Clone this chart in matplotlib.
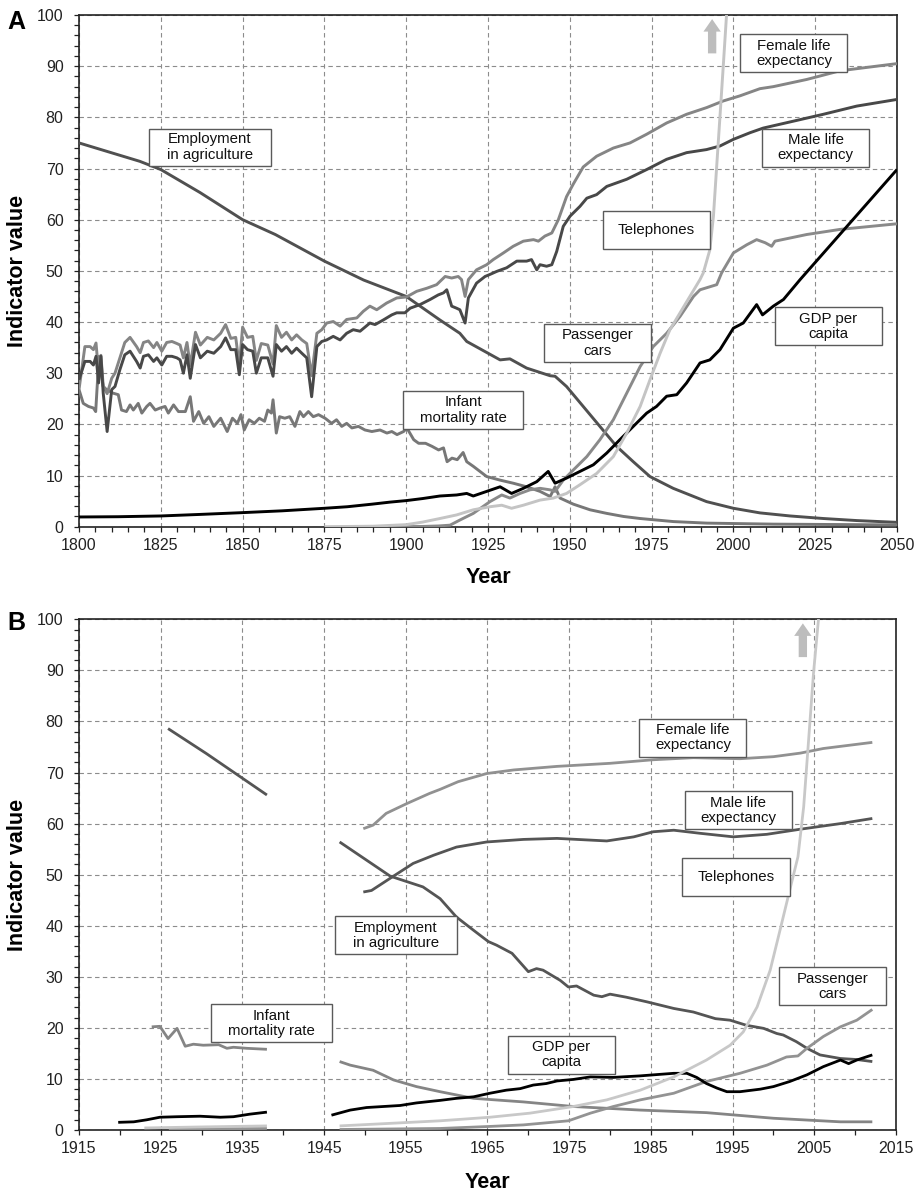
import matplotlib
matplotlib.use('Agg')
import matplotlib.pyplot as plt
from matplotlib.patches import Rectangle
from matplotlib.ticker import MultipleLocator, FixedLocator

plt.rcParams['font.family'] = ['Liberation Sans', 'DejaVu Sans']

# ---------------- Panel A data (year, value) ----------------
A_employment = [(1800, 75.0), (1818.6, 71.4), (1825, 69.8), (1837, 65.3), (1850, 60.0), (1860, 57.1),
                (1875, 51.9), (1887, 48.2), (1900, 45.0), (1910.3, 40.4), (1916.4, 37.8), (1918.5, 36.2),
                (1928.7, 32.6), (1931.7, 32.8), (1936.8, 31.0), (1944, 29.5), (1945.5, 29.4), (1949, 27.4),
                (1954.1, 23.5), (1959.2, 19.6), (1964.3, 15.7), (1969.4, 12.7), (1974.5, 9.8), (1981.6, 7.5),
                (1991.8, 4.9), (2000, 3.6), (2008.1, 2.7), (2017.3, 2.1), (2027.5, 1.6), (2037.7, 1.2),
                (2050, 0.85)]

A_male_life = [(1800, 28.7), (1801.8, 32.3), (1803.4, 32.3), (1804.4, 31.6), (1805.2, 33.3), (1806, 28.1),
               (1806.7, 33.3), (1807.4, 26.1), (1808.6, 18.6), (1810, 26.8), (1811, 27.4), (1812.5, 30.7),
               (1814, 33.6), (1815.6, 34.3), (1817.6, 32.3), (1818.7, 31.0), (1819.7, 33.3), (1821.2, 33.6),
               (1822.8, 32.3), (1823.8, 33.0), (1825.3, 31.6), (1826.8, 33.3), (1828.4, 33.3), (1829.9, 33.0),
               (1830.9, 32.6), (1831.9, 30.0), (1833, 33.6), (1834, 29.0), (1835.6, 35.6), (1837.1, 33.0),
               (1839.2, 34.3), (1841.2, 33.9), (1843.3, 35.2), (1844.8, 36.9), (1846.4, 34.6), (1847.9, 34.6),
               (1849, 29.7), (1850, 35.6), (1851.5, 34.6), (1853.1, 34.3), (1854.2, 30.0), (1855.7, 33.0),
               (1857.7, 33.0), (1859.3, 29.4), (1860.3, 35.6), (1861.9, 34.3), (1863.4, 35.2), (1865, 33.9),
               (1866.5, 34.9), (1868.1, 33.9), (1869.6, 33.0), (1871.1, 25.4), (1872.7, 35.2), (1874.2, 36.2),
               (1875.7, 36.5), (1877.7, 37.2), (1879.8, 36.5), (1881.8, 37.8), (1883.8, 38.5), (1885.9, 38.2),
               (1888.9, 39.8), (1890.5, 39.5), (1893, 40.4), (1895.6, 41.4), (1897.1, 41.8), (1899.6, 41.8),
               (1901.2, 42.7), (1904.2, 43.4), (1907.3, 44.4), (1909.8, 45.3), (1911.4, 45.7), (1912.4, 46.3),
               (1913.9, 43.1), (1915.4, 42.7), (1916.4, 42.4), (1918, 39.8), (1919, 44.7), (1921.5, 47.6),
               (1924.1, 48.9), (1925.6, 49.3), (1927.7, 49.9), (1930.7, 50.6), (1933.8, 51.9), (1936.8, 51.9),
               (1938.3, 52.2), (1939.9, 50.2), (1940.9, 51.2), (1942.9, 50.9), (1944.5, 51.2), (1946, 53.8),
               (1948, 58.7), (1950.1, 60.7), (1953.1, 62.6), (1955.2, 64.2), (1958.2, 64.9), (1961.3, 66.5),
               (1967.4, 67.9), (1973.5, 69.8), (1979.6, 71.8), (1985.7, 73.1), (1991.8, 73.7), (1995.9, 74.4),
               (2000, 75.7), (2005.1, 77.0), (2009.1, 77.9), (2017.3, 79.1), (2027.5, 80.6), (2037.7, 82.2),
               (2050, 83.5)]

A_female_life = [(1800, 26.8), (1801.8, 35.2), (1803.4, 35.2), (1804.4, 34.6), (1805.2, 35.9), (1806, 30.0),
                 (1806.7, 33.5), (1807.4, 27.5), (1808.6, 26.0), (1810, 29.0), (1811, 30.0), (1812.5, 33.0),
                 (1814, 36.0), (1815.6, 37.0), (1817.6, 35.2), (1818.7, 34.0), (1819.7, 36.0), (1821.2, 36.3),
                 (1822.8, 35.0), (1823.8, 36.0), (1825.3, 34.3), (1826.8, 36.0), (1828.4, 36.2), (1829.9, 35.8),
                 (1830.9, 35.5), (1831.9, 33.0), (1833, 36.0), (1834, 31.5), (1835.6, 38.0), (1837.1, 35.5),
                 (1839.2, 37.0), (1841.2, 36.5), (1843.3, 37.8), (1844.8, 39.5), (1846.4, 36.8), (1847.9, 37.0),
                 (1849, 31.5), (1850, 39.0), (1851.5, 37.0), (1853.1, 37.2), (1854.2, 32.5), (1855.7, 35.8),
                 (1857.7, 35.5), (1859.3, 31.8), (1860.3, 39.3), (1861.9, 37.0), (1863.4, 38.0), (1865, 36.5),
                 (1866.5, 37.5), (1868.1, 36.5), (1869.6, 35.8), (1871.1, 29.5), (1872.7, 37.8), (1874.2, 38.5),
                 (1875.7, 39.8), (1877.7, 40.1), (1879.8, 39.2), (1881.8, 40.5), (1884.9, 40.8), (1886.9, 42.1),
                 (1888.9, 43.1), (1891, 42.4), (1894, 43.7), (1897.1, 44.7), (1900.1, 44.9), (1903.2, 46.0),
                 (1906.3, 46.6), (1909.3, 47.3), (1911.9, 48.9), (1913.9, 48.6), (1915.9, 48.9), (1916.9, 48.3),
                 (1918, 45.0), (1919, 48.3), (1921.5, 50.2), (1924.6, 51.2), (1926.6, 52.2), (1929.7, 53.5),
                 (1932.7, 54.8), (1935.8, 55.8), (1938.9, 56.1), (1940.4, 55.8), (1942.4, 56.8), (1944.5, 57.4),
                 (1946.5, 60.0), (1949, 64.5), (1951.1, 67.0), (1954.1, 70.3), (1958.2, 72.4), (1963.3, 74.0),
                 (1968.4, 75.0), (1973.5, 76.7), (1979.6, 78.9), (1985.7, 80.6), (1991.8, 81.9), (1996.9, 83.2),
                 (2002, 84.2), (2008.1, 85.6), (2012.2, 86.0), (2022.4, 87.4), (2032.6, 89.1), (2050, 90.5)]

A_infant = [(1800, 26.8), (1801.3, 24.1), (1802.9, 23.5), (1804.4, 23.2), (1805.1, 22.5), (1806.1, 33.3),
            (1807.4, 27.4), (1808.4, 26.8), (1810.4, 26.1), (1812, 25.8), (1813, 22.8), (1814.5, 22.5),
            (1815.6, 23.8), (1816.6, 22.8), (1818.1, 24.1), (1819.2, 22.2), (1820.7, 23.5), (1821.7, 24.1),
            (1823.3, 22.8), (1824.8, 23.2), (1826.3, 23.5), (1827.3, 22.2), (1828.9, 23.8), (1830.4, 22.5),
            (1832.5, 22.5), (1834, 25.4), (1835, 20.6), (1836.6, 22.5), (1838.1, 20.2), (1839.7, 21.5),
            (1841.2, 19.6), (1843.3, 21.2), (1845.3, 18.6), (1846.9, 21.2), (1848.4, 20.2), (1849.5, 21.9),
            (1850.5, 18.9), (1852, 20.9), (1853.6, 20.2), (1855.1, 21.2), (1856.7, 20.6), (1857.7, 22.8),
            (1858.8, 22.2), (1859.3, 24.8), (1860.3, 18.3), (1861.3, 21.5), (1862.9, 21.2), (1864.4, 21.5),
            (1866, 19.6), (1867.5, 22.5), (1868.6, 21.5), (1870.1, 22.5), (1871.6, 21.5), (1873.2, 21.9),
            (1875.2, 21.2), (1877.2, 20.2), (1878.7, 20.9), (1880.3, 19.6), (1881.8, 20.2), (1883.4, 19.3),
            (1885.4, 19.6), (1887.4, 18.9), (1889.5, 18.6), (1892, 18.9), (1894.1, 18.3), (1895.6, 18.6),
            (1897.2, 18.0), (1899.2, 18.6), (1900.2, 19.3), (1902.3, 17.0), (1903.8, 16.3), (1905.9, 16.3),
            (1907.9, 15.7), (1909.9, 15.0), (1911.4, 15.4), (1912.5, 12.7), (1914, 13.4), (1915.6, 13.1),
            (1917.4, 14.5), (1918.5, 12.7), (1920.5, 11.8), (1924.6, 9.8), (1928.7, 9.1), (1932.7, 8.5),
            (1936.8, 7.8), (1940.9, 6.9), (1944, 5.9), (1945.5, 7.8), (1947, 5.6), (1951.1, 4.4),
            (1956.2, 3.3), (1961.3, 2.6), (1966.4, 2.0), (1971.5, 1.6), (1981.7, 1.0), (1991.9, 0.7),
            (2012.3, 0.5), (2050, 0.35)]

A_gdp = [(1800, 1.9), (1812, 1.95), (1825, 2.1), (1837, 2.4), (1850, 2.75), (1862, 3.1), (1875, 3.6),
         (1882, 3.9), (1889.5, 4.4), (1895, 4.8), (1900, 5.1), (1905, 5.5), (1910.3, 6.0), (1915.4, 6.2),
         (1918.5, 6.5), (1920.5, 6.0), (1924.6, 6.9), (1928.7, 7.8), (1932.2, 6.5), (1935.8, 7.5),
         (1939.9, 8.8), (1943.4, 10.8), (1945.5, 8.5), (1949, 9.5), (1953.1, 10.8), (1957.2, 12.1),
         (1961.3, 14.4), (1965.3, 17.0), (1969.4, 19.6), (1973.5, 22.2), (1976.5, 23.5), (1979.6, 25.5),
         (1982.7, 25.8), (1985.7, 28.1), (1989.8, 32.0), (1992.8, 32.6), (1995.9, 34.6), (2000, 38.8),
         (2003, 39.8), (2007.1, 43.4), (2008.9, 41.4), (2012.2, 43.1), (2015.3, 44.4), (2020.4, 48.3),
         (2050, 69.8)]

A_telephones = [(1875, 0.0), (1890, 0.1), (1900, 0.4), (1905, 0.9), (1910.3, 1.6), (1915.4, 2.3),
                (1920.5, 3.3), (1925.6, 3.9), (1929.2, 4.2), (1932.2, 3.6), (1935.8, 4.2), (1940.9, 5.2),
                (1945, 5.6), (1949, 6.5), (1953.1, 8.2), (1958.2, 10.4), (1963.3, 13.7), (1967.4, 18.3),
                (1971.5, 23.5), (1974.5, 28.7), (1977.6, 33.9), (1980.6, 38.5), (1983.7, 41.8), (1986.7, 45.0),
                (1989.8, 48.3), (1990.8, 49.6), (1992.8, 54.1), (1993.9, 60.7), (1994.9, 70.5), (1995.9, 80.2),
                (1996.9, 90.0), (1997.9, 100.0), (1998.3, 105.0)]

A_cars = [(1895, 0.0), (1905, 0.05), (1910, 0.15), (1913.4, 0.3), (1916.4, 1.3), (1920.5, 2.6), (1925.6, 4.9),
          (1929.2, 6.2), (1931.7, 5.6), (1934.8, 6.5), (1937.8, 7.2), (1940.9, 7.5), (1944, 7.2),
          (1945.5, 6.9), (1948, 9.1), (1951.1, 11.1), (1955.2, 13.7), (1959.2, 17.0), (1963.3, 20.9),
          (1967.4, 26.1), (1971.5, 31.3), (1975.5, 35.2), (1979.6, 37.8), (1983.7, 41.1), (1987.8, 45.0),
          (1989.8, 46.3), (1994.9, 47.3), (1996.4, 49.6), (2000, 53.5), (2004.1, 55.1), (2007.1, 56.1),
          (2009.7, 55.5), (2011.7, 54.8), (2012.7, 55.8), (2022.4, 57.1), (2032.6, 58.1), (2050, 59.2)]

# ---------------- Panel B data (year, value); two segments each ----------------
B_employment_1 = [(1925.9, 78.6), (1930.6, 73.7), (1938, 65.6)]
B_employment_2 = [(1946.9, 56.4), (1953.1, 49.7), (1957.1, 47.6), (1959.2, 45.3), (1961.2, 41.7), (1963.3, 39.1),
                  (1965.1, 36.9), (1966.1, 36.2), (1968, 34.6), (1970, 31.0), (1971, 31.6), (1971.8, 31.3),
                  (1973.9, 29.3), (1974.9, 28.0), (1975.9, 28.2), (1978, 26.4), (1979, 26.1), (1980, 26.6),
                  (1982, 26.0), (1984.5, 25.1), (1987.8, 23.8), (1990.2, 23.1), (1992.9, 21.8), (1994.7, 21.5),
                  (1996.7, 20.5), (1998.8, 19.9), (2000.4, 18.9), (2001.2, 18.6), (2002.8, 17.3), (2004.1, 16.0),
                  (2005.7, 14.7), (2008.2, 14.0), (2010.2, 13.8), (2012.1, 13.4)]
B_male_life = [(1949.8, 46.6), (1950.8, 46.9), (1953.1, 49.3), (1955.9, 52.2), (1958.4, 53.8), (1961.2, 55.4),
               (1964.9, 56.4), (1969.4, 56.9), (1973.5, 57.1), (1979.6, 56.6), (1982.9, 57.4), (1985.3, 58.4),
               (1987.8, 58.7), (1991, 58.1), (1995.1, 57.4), (1999.2, 57.9), (2003.3, 58.9), (2008.2, 60.0),
               (2012.1, 61.0)]
B_female_life = [(1949.8, 59.0), (1951, 59.7), (1952.6, 62.0), (1955.1, 63.9), (1957.9, 65.9), (1959.2, 66.7),
                 (1961.4, 68.2), (1964.9, 69.8), (1968.2, 70.5), (1973.5, 71.2), (1980, 71.8), (1985.3, 72.5),
                 (1990.2, 72.9), (1995.9, 72.7), (2000, 73.1), (2003.3, 73.8), (2006.1, 74.7), (2012.1, 75.9)]
B_infant_1 = [(1923.9, 20.2), (1924.9, 20.3), (1925.9, 17.9), (1927, 19.9), (1928, 16.4), (1929, 16.8),
              (1930.2, 16.6), (1932.1, 16.7), (1933.1, 16.0), (1933.9, 16.2), (1935.5, 16.0), (1938, 15.8)]
B_infant_2 = [(1946.9, 13.4), (1948.2, 12.7), (1951, 11.7), (1953.5, 9.8), (1956.3, 8.5), (1959.2, 7.5),
              (1963.3, 6.2), (1969.4, 5.5), (1975.5, 4.6), (1983.7, 3.9), (1991.8, 3.4), (2000, 2.3),
              (2008.2, 1.6), (2012.1, 1.6)]
B_gdp_1 = [(1919.8, 1.5), (1921.7, 1.6), (1923.3, 2.0), (1924.9, 2.5), (1927, 2.6), (1929.8, 2.7),
           (1932.3, 2.5), (1933.9, 2.6), (1935.9, 3.1), (1938, 3.5)]
B_gdp_2 = [(1945.9, 2.9), (1948.2, 3.9), (1950.2, 4.4), (1954.3, 4.8), (1956.3, 5.3), (1959.2, 5.8),
           (1961.2, 6.2), (1963.3, 6.5), (1965.3, 7.2), (1967.3, 7.8), (1969, 8.1), (1970.6, 8.8),
           (1972.2, 9.1), (1973.5, 9.6), (1975.5, 9.9), (1977.6, 10.4), (1980.4, 10.3), (1983.7, 10.6),
           (1985.3, 10.8), (1987.8, 11.1), (1989.4, 11.1), (1990.6, 10.3), (1991.8, 9.1), (1993.1, 8.2),
           (1994.3, 7.5), (1995.9, 7.5), (1998.4, 8.0), (2000, 8.5), (2002, 9.5), (2004.1, 10.8),
           (2006.1, 12.4), (2008.2, 13.7), (2009.2, 13.0), (2010.2, 13.7), (2012.1, 14.7)]
B_telephones_1 = [(1923, 0.4), (1930, 0.6), (1938, 0.8)]
B_telephones_2 = [(1946.9, 0.8), (1954.3, 1.4), (1959.2, 1.8), (1965.3, 2.5), (1970.2, 3.3), (1975.5, 4.6),
                  (1979.6, 5.9), (1983.7, 7.8), (1987.8, 10.4), (1991.8, 13.7), (1994.7, 16.6), (1996.3, 19.2),
                  (1998, 24.1), (1999.6, 31.3), (2000.8, 39.1), (2002, 47.0), (2003, 53.5), (2003.7, 63.3),
                  (2004.3, 76.3), (2004.9, 89.4), (2005.5, 99.8), (2005.7, 104.0)]
B_cars_1 = [(1926, 0.2), (1938, 0.3)]
B_cars_2 = [(1946.9, 0.1), (1959.2, 0.3), (1965.3, 0.7), (1969.4, 1.0), (1974.9, 1.8), (1977.6, 3.3),
            (1980.4, 4.6), (1983.7, 5.9), (1987.8, 7.2), (1991.8, 9.5), (1995.9, 11.1), (1999.2, 12.7),
            (2001.6, 14.3), (2003, 14.5), (2004.1, 16.0), (2006.1, 18.3), (2008.2, 20.2), (2010.2, 21.5),
            (2012.1, 23.6)]

# tick positions
A_year_ticks = list(range(1800, 2051, 25))
B_year_ticks = list(range(1915, 2016, 10))

# ---------------- Figure ----------------
W, H = 921, 1191
fig = plt.figure(figsize=(W / 100, H / 100), dpi=100)
axA = fig.add_axes([79 / W, 1 - 526.7 / H, 818 / W, 511.7 / H])
axB = fig.add_axes([79 / W, 1 - 1130 / H, 817 / W, 510.7 / H])


def style(ax, xmin, xmax, ticks, minor):
    ax.set_xlim(xmin, xmax)
    ax.set_ylim(0, 100)
    ax.xaxis.set_major_locator(FixedLocator(ticks))
    ax.xaxis.set_minor_locator(MultipleLocator(minor))
    ax.yaxis.set_major_locator(MultipleLocator(10))
    ax.yaxis.set_minor_locator(MultipleLocator(2))
    ax.grid(True, which='major', color='#8c8c8c', linestyle=(0, (4, 3)), linewidth=0.8)
    ax.set_axisbelow(True)
    ax.tick_params(which='both', direction='out', length=3.6, width=0.9, colors='#222222',
                   labelsize=11.5, top=False, right=False)
    ax.tick_params(axis='x', pad=4.5)
    ax.tick_params(axis='y', pad=7.5)
    for s in ax.spines.values():
        s.set_linewidth(1.2)
        s.set_color('#222222')


def plot(ax, pts, color, lw=2.1, z=3):
    xs = [p[0] for p in pts]
    ys = [p[1] for p in pts]
    ax.plot(xs, ys, color=color, lw=lw, zorder=z, solid_joinstyle='round', solid_capstyle='butt')


def label(ax, xc, yc, text, wpx, hpx, sx, sy):
    w = wpx / sx
    h = hpx / sy
    ax.add_patch(Rectangle((xc - w / 2, yc - h / 2), w, h, facecolor='white', edgecolor='#5a5a5a',
                           lw=1.0, zorder=6))
    ax.text(xc, yc, text, ha='center', va='center', fontsize=10.8, zorder=7, linespacing=1.1,
            color='#111111')


def up_arrow(ax, x, y0, y1):
    ax.annotate('', xy=(x, y1), xytext=(x, y0),
                arrowprops=dict(arrowstyle='simple,head_width=1.25,head_length=0.9,tail_width=0.6',
                                mutation_scale=10, fc='#bdbdbd', ec='#bdbdbd', lw=0,
                                shrinkA=0, shrinkB=0), zorder=5)


# Panel A
style(axA, 1800, 2050, A_year_ticks, 5)
plot(axA, A_employment, '#505050')
plot(axA, A_infant, '#777777')
plot(axA, A_cars, '#8a8a8a')
plot(axA, A_female_life, '#858585')
plot(axA, A_male_life, '#484848')
plot(axA, A_gdp, '#000000')
plot(axA, A_telephones, '#c4c4c4')
up_arrow(axA, 1993.5, 92.5, 99.2)

sxA, syA = 818 / 250, 511.7 / 100
label(axA, 1840.0, 74.2, 'Employment\nin agriculture', 122, 37, sxA, syA)
label(axA, 2018.5, 92.5, 'Female life\nexpectancy', 107, 38, sxA, syA)
label(axA, 2025.2, 74.1, 'Male life\nexpectancy', 107, 38, sxA, syA)
label(axA, 1976.5, 58.0, 'Telephones', 107, 38, sxA, syA)
label(axA, 1958.4, 35.9, 'Passenger\ncars', 107, 38, sxA, syA)
label(axA, 2029.0, 39.2, 'GDP per\ncapita', 107, 38, sxA, syA)
label(axA, 1917.4, 22.8, 'Infant\nmortality rate', 120, 38, sxA, syA)

# Panel B
style(axB, 1915, 2015, B_year_ticks, 5)
lwB = 2.0
for seg in (B_employment_1, B_employment_2):
    plot(axB, seg, '#555555', lwB)
for seg in (B_infant_1, B_infant_2):
    plot(axB, seg, '#858585', lwB)
for seg in (B_cars_1, B_cars_2):
    plot(axB, seg, '#939393', lwB)
plot(axB, B_female_life, '#919191', lwB)
plot(axB, B_male_life, '#555555', lwB)
for seg in (B_gdp_1, B_gdp_2):
    plot(axB, seg, '#000000', lwB)
for seg in (B_telephones_1, B_telephones_2):
    plot(axB, seg, '#c8c8c8', lwB)
up_arrow(axB, 2003.6, 92.6, 99.2)

sxB, syB = 817 / 100, 510.7 / 100
label(axB, 1990.15, 76.8, 'Female life\nexpectancy', 107, 38, sxB, syB)
label(axB, 1995.7, 62.6, 'Male life\nexpectancy', 107, 38, sxB, syB)
label(axB, 1995.4, 49.6, 'Telephones', 108, 38, sxB, syB)
label(axB, 1953.8, 38.1, 'Employment\nin agriculture', 122, 38, sxB, syB)
label(axB, 1938.6, 20.9, 'Infant\nmortality rate', 121, 38, sxB, syB)
label(axB, 1974.0, 14.7, 'GDP per\ncapita', 107, 38, sxB, syB)
label(axB, 2007.2, 28.1, 'Passenger\ncars', 107, 38, sxB, syB)

# Panel letters and axis titles
fig.text(7.0 / W, 1 - 29.3 / H, 'A', fontsize=18, weight='bold', ha='left', va='baseline')
fig.text(7.0 / W, 1 - 630 / H, 'B', fontsize=18, weight='bold', ha='left', va='baseline')
fig.text(17.5 / W, 1 - 271 / H, 'Indicator value', fontsize=15.5, weight='bold', rotation=90,
         ha='center', va='center')
fig.text(17.5 / W, 1 - 874.7 / H, 'Indicator value', fontsize=15.5, weight='bold', rotation=90,
         ha='center', va='center')
fig.text(488 / W, 1 - 582.7 / H, 'Year', fontsize=15.5, weight='bold', ha='center', va='baseline')
fig.text(487.5 / W, 1 - 1188 / H, 'Year', fontsize=15.5, weight='bold', ha='center', va='baseline')

fig.savefig('out.png', dpi=100, facecolor='white')
